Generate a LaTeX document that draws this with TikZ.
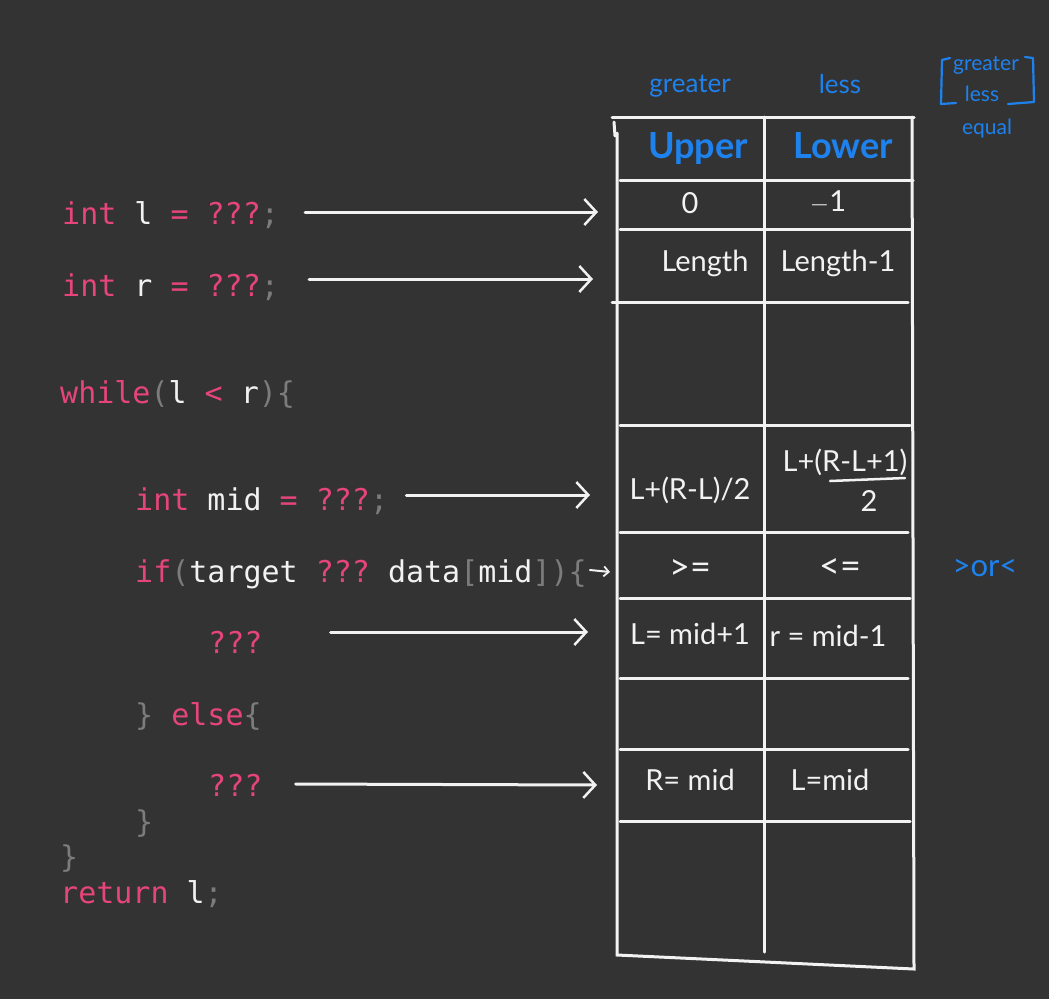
\documentclass[tikz,border=0pt]{standalone}
\usepackage{fontspec}
\setmonofont{DejaVu Sans Mono}
\newfontfamily\hand{Lato}
\usetikzlibrary{arrows.meta}
\definecolor{bg}{HTML}{333333}
\definecolor{pk}{HTML}{E6457A}
\definecolor{wt}{HTML}{F2F2F2}
\definecolor{gy}{HTML}{7C7C7C}
\definecolor{bl}{HTML}{1E82EE}
\newcommand\kw[1]{\textcolor{pk}{#1}}
\newcommand\pl[1]{\textcolor{wt}{#1}}
\newcommand\gy[1]{\textcolor{gy}{#1}}
\tikzset{
  code/.style={anchor=mid west,inner sep=0pt,yshift=-8pt,font=\fontsize{30}{30}\ttfamily},
  grid/.style={draw=wt,line width=3pt,line cap=round},
  cell/.style={text=wt,inner sep=0pt,font=\fontsize{29}{29}\hand},
  rel/.style={text=wt,inner sep=0pt,font=\fontsize{36}{36}\hand},
  head/.style={text=bl,inner sep=0pt,font=\fontsize{36}{36}\hand\bfseries},
  note/.style={text=bl,inner sep=0pt,font=\fontsize{26}{26}\hand},
  small note/.style={text=bl,inner sep=0pt,font=\fontsize{21}{21}\hand},
  arr/.style={draw=wt,line width=3pt,line cap=round,-{Straight Barb[length=12pt,width=26pt,line width=2.5pt]}},
}
\begin{document}
\begin{tikzpicture}[x=1pt,y=-1pt]
\fill[bg] (0,0) rectangle (1049,999);
\useasboundingbox (0,0) rectangle (1049,999);
% code
\node[code] (cl) at (62,214) {\kw{int} \pl{l} \kw{= ???}\gy{;}};
\node[code] (cr) at (62,286) {\kw{int} \pl{r} \kw{= ???}\gy{;}};
\node[code] (cw) at (60,393) {\kw{while}\gy{(}\pl{l} \kw{<} \pl{r}\gy{)\{}};
\node[code] (cm) at (135,500) {\kw{int} \pl{mid} \kw{= ???}\gy{;}};
\node[code] (ci) at (135,572) {\kw{if}\gy{(}\pl{target} \kw{???} \pl{data}\gy{[}\pl{mid}\gy{])\{}};
\node[code] (c1) at (208,643) {\kw{???}};
\node[code] (ce) at (135,715) {\gy{\}} \kw{else}\gy{\{}};
\node[code] (c2) at (208,786) {\kw{???}};
\node[code] (cb1) at (135,822) {\gy{\}}};
\node[code] (cb2) at (60,857) {\gy{\}}};
\node[code] (cret) at (60,893) {\kw{return} \pl{l}\gy{;}};
% table
\draw[grid] (612,117) -- (914,117);
\draw[grid] (614,122) -- (615,136);
\draw[grid] (617,133) -- (617,955) -- (914,969) -- (912,117);
\draw[grid] (764,117) -- (764,952);
\foreach \y/\a/\b in {180/620/913,229/620/912,302/612/908,425/620/910,532/620/908,598/620/910,678/620/908,749/620/908,821/620/910}
  \draw[grid] (\a,\y) -- (\b,\y);
% headings
\node[head] (hu) at (698,148) {Upper};
\node[head] (hl) at (843,146) {Lower};
\node[note] (ng) at (690,86) {greater};
\node[note] (nl) at (840,84) {less};
\node[small note] (tg) at (986,65) {greater};
\node[small note] (tl) at (982,94) {less};
\node[small note] (te) at (987,129) {equal};
\draw[bl,line width=2.2pt,line cap=round,line join=round] (950,58) -- (942,60) -- (941,104) -- (956,103);
\draw[bl,line width=2.2pt,line cap=round,line join=round] (1025,57) -- (1033,58) -- (1034,102) -- (1008,104);
\node[text=bl,inner sep=0pt,font=\fontsize{31}{31}\hand] (nor) at (985,568) {>or<};
% cells
\node[cell] (v0) at (690,203) {0};
\node[cell] (v1) at (828,202) {$-$1};
\node[cell] (v2) at (705,263) {Length};
\node[cell] (v3) at (838,263) {Length-1};
\node[cell] (v4) at (690,490) {L+(R-L)/2};
\node[cell] (v5n) at (845,462) {L+(R-L+1)};
\node[cell] (v5d) at (869,501) {2};
\draw[draw=wt,line width=2.5pt,line cap=round] (830,481) -- (905,478);
\node[rel] (v6) at (690,569) {>=};
\node[rel] (v7) at (840,568) {<=};
\node[cell] (v8) at (690,634) {L= mid+1};
\node[cell] (v9) at (828,636) {r = mid-1};
\node[cell] (v10) at (690,780) {R= mid};
\node[cell] (v11) at (830,780) {L=mid};
% arrows
\coordinate (e1) at (598,212);
\coordinate (e2) at (593,279);
\coordinate (e3) at (590,495);
\coordinate (e4) at (610,572);
\coordinate (e5) at (588,632);
\coordinate (e6) at (597,785);
\draw[arr] ([xshift=26pt,yshift=10pt]cl.mid east) -- (e1);
\draw[arr] ([xshift=30pt,yshift=15pt]cr.mid east) -- (e2);
\draw[arr] ([xshift=18pt,yshift=13pt]cm.mid east) -- (e3);
\draw[draw=wt,line width=2pt,line cap=round,-{Straight Barb[length=5pt,width=10pt,line width=1.8pt]}] ([xshift=3pt,yshift=10pt]ci.mid east) -- (e4);
\draw[arr] ([xshift=68pt,yshift=19pt]c1.mid east) -- (e5);
\draw[arr] ([xshift=33pt,yshift=10pt]c2.mid east) -- (e6);
\end{tikzpicture}
\end{document}
